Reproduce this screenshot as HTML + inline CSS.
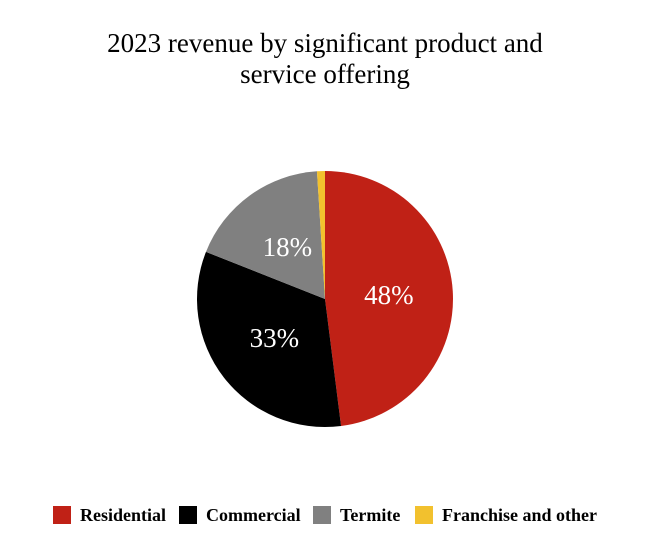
<!DOCTYPE html>
<html><head><meta charset="utf-8">
<style>
html,body{margin:0;padding:0;background:#fff;}
svg{display:block;font-family:"Liberation Serif",serif;}
</style></head>
<body>
<svg id="chart" width="650" height="560" viewBox="0 0 650 560">
  <text x="325" y="52" text-anchor="middle" font-size="27" fill="#000">2023 revenue by significant product and</text>
  <text x="325" y="83" text-anchor="middle" font-size="27" fill="#000">service offering</text>
  <g id="slices"></g>
  <g id="labels"></g>
  <g id="legend"></g>
</svg>
<script>
const categories = ["Residential", "Commercial", "Termite", "Franchise and other"];
const values = [48, 33, 18, 1];
const printedLabels = ["48%", "33%", "18%", ""];
const colors = ["#c02116", "#000000", "#808080", "#f2c12e"];

const cx = 325, cy = 299, r = 128, lr = 64;
const ns = "http://www.w3.org/2000/svg";
const total = values.reduce((a, b) => a + b, 0);
const sl = document.getElementById("slices");
const lb = document.getElementById("labels");
const lg = document.getElementById("legend");
function pt(a, rad) { return [cx + rad * Math.sin(a), cy - rad * Math.cos(a)]; }
let acc = 0;
values.forEach((v, i) => {
  const a0 = acc / total * 2 * Math.PI;
  acc += v;
  const a1 = acc / total * 2 * Math.PI;
  const [x0, y0] = pt(a0, r), [x1, y1] = pt(a1, r);
  const large = (a1 - a0) > Math.PI ? 1 : 0;
  const p = document.createElementNS(ns, "path");
  p.setAttribute("d", `M${cx},${cy} L${x0},${y0} A${r},${r} 0 ${large} 1 ${x1},${y1} Z`);
  p.setAttribute("fill", colors[i]);
  
  
  sl.appendChild(p);
  if (printedLabels[i]) {
    const [lx, ly] = pt((a0 + a1) / 2, lr);
    const t = document.createElementNS(ns, "text");
    t.setAttribute("x", lx); t.setAttribute("y", ly + 9);
    t.setAttribute("text-anchor", "middle");
    t.setAttribute("font-size", "27"); t.setAttribute("fill", "#fff");
    t.textContent = printedLabels[i];
    
    
    lb.appendChild(t);
  }
});
const legendX = [53, 179, 313, 415];
categories.forEach((c, i) => {
  const g = document.createElementNS(ns, "g");
  
  
  const s = document.createElementNS(ns, "rect");
  s.setAttribute("x", legendX[i]); s.setAttribute("y", 506);
  s.setAttribute("width", 18); s.setAttribute("height", 18);
  s.setAttribute("fill", colors[i]);
  g.appendChild(s);
  const t = document.createElementNS(ns, "text");
  t.setAttribute("x", legendX[i] + 27); t.setAttribute("y", 521);
  t.setAttribute("font-size", "18"); t.setAttribute("font-weight", "bold");
  t.textContent = c;
  g.appendChild(t);
  lg.appendChild(g);
});
</script>
</body></html>
